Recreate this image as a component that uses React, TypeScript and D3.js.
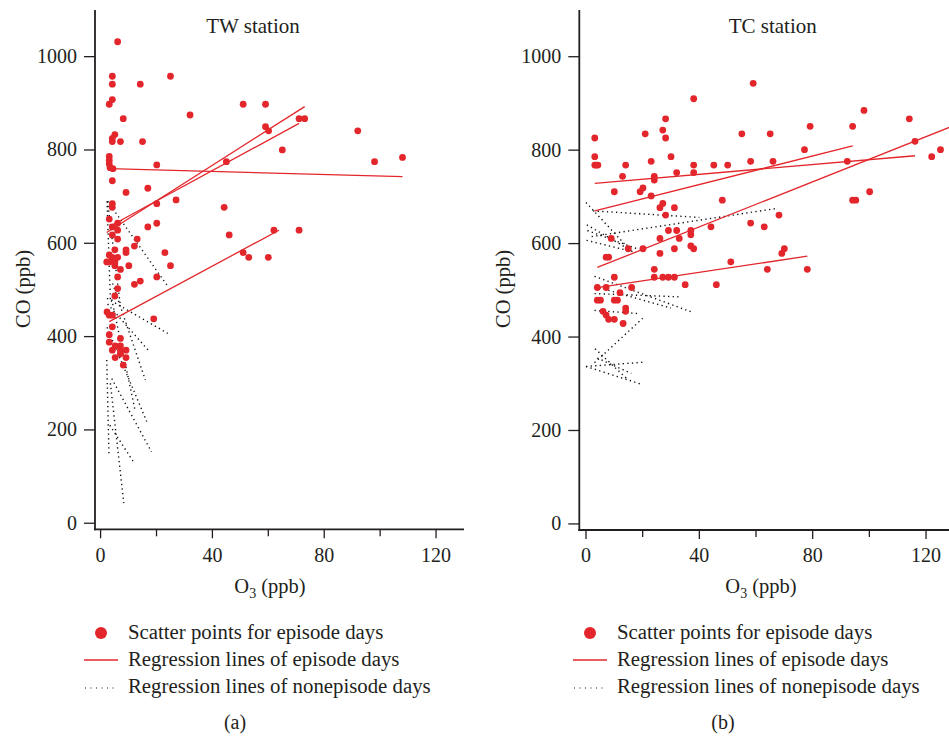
import React from "react";
import * as d3 from "d3";

// ---------- DATA ----------
const yTicks = [0, 200, 400, 600, 800, 1000];
const xTicksMajor = [0, 40, 80, 120];
const xTicksMinor = [20, 60, 100];

// TW station episode-day scatter points [O3, CO]
const twEpisodePoints: [number, number][] = [
  [6.1, 1032], [4.2, 958], [4.2, 941], [4.2, 908], [3.1, 898], [8.1, 867], [5.1, 833], [4.2, 825],
  [4.2, 818], [7.1, 818], [14.2, 941], [15, 818], [25, 958], [32, 875], [51, 898], [59, 898],
  [59, 850], [60.1, 841], [71, 867], [73, 867], [65, 800], [92, 841], [98, 775], [108, 784],
  [45, 775], [20.1, 768], [3.1, 786], [3.1, 778], [3.1, 770], [3.4, 762], [4.4, 760], [4.2, 734],
  [9.1, 709], [16.9, 718], [27, 693], [20.1, 685], [4.2, 685], [4.2, 677], [44.2, 677], [3.1, 652],
  [6.1, 643], [20.1, 643], [4.2, 635], [16.9, 635], [6.1, 628], [4.2, 618], [46, 618], [6.1, 609],
  [13.1, 609], [62, 628], [71, 628], [12.1, 594], [5.1, 586], [9.1, 586], [9.1, 580], [23, 580],
  [51, 580], [53, 570], [60, 570], [3.1, 575], [4.2, 570], [6.1, 570], [2.2, 560], [3.1, 560],
  [5.1, 560], [5.1, 552], [10.1, 552], [25, 552], [7.1, 544], [6.1, 528], [20.1, 528], [12.1, 512],
  [14.2, 519], [6.1, 503], [5.1, 487], [2.3, 453], [3.1, 446], [4.2, 446], [19, 438], [4.2, 421],
  [3.1, 404], [7.1, 396], [3.1, 388], [5.2, 380], [7.1, 380], [4.2, 371], [7.1, 371], [9.1, 371],
  [7.1, 363], [5.2, 355], [9.1, 355], [8.1, 339],
];

// TW regression lines of episode days [x1, y1, x2, y2]
const twEpisodeLines: [number, number, number, number][] = [
  [2.2, 623, 73, 893],
  [3.2, 636, 71, 857],
  [3.1, 760, 108, 743],
  [3.1, 432, 63.8, 628],
];

// TW regression lines of nonepisode days
const twNonEpisodeLines: [number, number, number, number][] = [
  [2.5, 690, 24, 508],
  [2.3, 690, 3.5, 480],
  [2.5, 690, 7, 470],
  [2.3, 482, 24, 407],
  [2.5, 470, 17, 371],
  [4.3, 514, 16, 307],
  [4, 480, 12.3, 243],
  [2.2, 350, 3, 145],
  [4, 310, 18.2, 153],
  [3.5, 300, 8.3, 43],
  [3.3, 210, 11.7, 132],
  [2.3, 420, 16.5, 218],
];

// TC station episode-day scatter points [O3, CO]
const tcEpisodePoints: [number, number][] = [
  [3.1, 826], [3.1, 786], [3.1, 768], [3.6, 768], [4.2, 768], [14, 768], [12.9, 744], [10, 711],
  [20.9, 835], [23, 776], [24.1, 744], [24.1, 736], [19.1, 711], [20.1, 719], [23, 702], [27.1, 843],
  [28.1, 867], [28.1, 826], [30, 786], [32, 752], [27.1, 686], [26.1, 677], [28.1, 661], [31.2, 677],
  [29.1, 628], [32, 628], [32.9, 611], [26.1, 611], [37, 628], [37, 619], [37, 595], [38, 589],
  [38, 910], [38, 768], [38, 752], [31.2, 589], [26.1, 579], [20.1, 589], [14.9, 589], [8.9, 611],
  [7.1, 571], [8, 571], [45.1, 768], [50, 768], [48.1, 693], [44.1, 636], [55, 835], [59, 943],
  [58.1, 776], [65, 835], [66, 776], [58.1, 644], [62.9, 636], [68.1, 661], [69.1, 579], [70, 589],
  [51.1, 561], [64, 545], [78.1, 545], [46, 512], [35, 512], [77.1, 801], [79.1, 851], [92.2, 776],
  [94.1, 851], [98.1, 885], [94.1, 693], [95.2, 693], [100.1, 711], [114.1, 867], [116.1, 819],
  [122, 786], [125.1, 801], [24.1, 545], [24.1, 528], [27.1, 528], [29.1, 528], [31.2, 528],
  [10, 528], [4, 506], [7.1, 506], [16.1, 506], [12, 495], [4, 479], [5.1, 479], [10, 479],
  [11.1, 479], [14, 462], [14, 455], [6, 455], [7.1, 447], [8, 438], [10, 438], [13.1, 429],
];

// TC regression lines of episode days
const tcEpisodeLines: [number, number, number, number][] = [
  [3.1, 729, 116.1, 788],
  [3.1, 670, 94.1, 809],
  [4, 549, 130, 853],
  [4, 506, 78.1, 573],
];

// TC regression lines of nonepisode days
const tcNonEpisodeLines: [number, number, number, number][] = [
  [0, 688, 15, 590],
  [2.5, 670, 40, 656],
  [2, 615, 67, 675],
  [0.5, 628, 18, 589],
  [0.2, 607, 17, 582],
  [0.3, 640, 16, 585],
  [3, 530, 38, 452],
  [3, 493, 33, 486],
  [3.2, 508, 30, 462],
  [3, 457, 19, 450],
  [3, 345, 20, 440],
  [3.2, 375, 14.4, 311],
  [0, 337, 20, 346],
  [0, 337, 19, 300],
  [4, 355, 16, 322],
];

const legendLabels = [
  "Scatter points for episode days",
  "Regression lines of episode days",
  "Regression lines of nonepisode days",
];

// ---------- STYLE ----------
const FONT = "'Liberation Serif', 'Times New Roman', serif";
const INK = "#231f20";
const RED = "#e3262b";

type Seg = [number, number, number, number];

function Panel(props: {
  title: string;
  xRange: [number, number];
  xDomain: [number, number];
  xAxisY: number;
  titleX: number;
  yLabelX: number;
  xLabelX: number;
  points: [number, number][];
  epLines: Seg[];
  nonLines: Seg[];
}) {
  const x = d3.scaleLinear().domain(props.xDomain).range(props.xRange);
  const y = d3.scaleLinear().domain([-13, 1100]).range([props.xAxisY, 10]);
  const ax = props.xRange[0];
  const clipId = "clip" + props.title.replace(/\s/g, "");
  return (
    <g>
      <defs>
        <clipPath id={clipId}>
          <rect x={ax} y={0} width={props.xRange[1] - ax} height={props.xAxisY} />
        </clipPath>
      </defs>
      <text x={props.titleX} y={33} textAnchor="middle" fontFamily={FONT} fontSize={21} fill={INK}>
        {props.title}
      </text>
      <g clipPath={`url(#${clipId})`}>
        {props.nonLines.map((s, i) => (
          <line
            key={"n" + i}
            x1={x(s[0])}
            y1={y(s[1])}
            x2={x(s[2])}
            y2={y(s[3])}
            stroke="#111"
            strokeWidth={1.4}
            strokeDasharray="1.3 3.3"
          />
        ))}
        {props.epLines.map((s, i) => (
          <line
            key={"e" + i}
            x1={x(s[0])}
            y1={y(s[1])}
            x2={x(s[2])}
            y2={y(s[3])}
            stroke={RED}
            strokeWidth={1.3}
          />
        ))}
        {props.points.map((p, i) => (
          <circle key={"p" + i} cx={x(p[0])} cy={y(p[1])} r={3.4} fill={RED} />
        ))}
      </g>
      <line x1={ax} y1={10} x2={ax} y2={props.xAxisY + 1} stroke={INK} strokeWidth={1.8} />
      {yTicks.map((t) => (
        <g key={"yt" + t}>
          <line x1={ax - 11} x2={ax} y1={y(t)} y2={y(t)} stroke={INK} strokeWidth={1.3} />
          <text x={ax - 18} y={y(t) + 6.5} textAnchor="end" fontFamily={FONT} fontSize={20} fill={INK}>
            {t}
          </text>
        </g>
      ))}
      <line x1={ax - 1} y1={props.xAxisY} x2={props.xRange[1]} y2={props.xAxisY} stroke={INK} strokeWidth={1.8} />
      {xTicksMajor.map((t) => (
        <g key={"xt" + t}>
          <line x1={x(t)} x2={x(t)} y1={props.xAxisY} y2={props.xAxisY + 9} stroke={INK} strokeWidth={1.3} />
          <text x={x(t)} y={561.5} textAnchor="middle" fontFamily={FONT} fontSize={20} fill={INK}>
            {t}
          </text>
        </g>
      ))}
      {xTicksMinor.map((t) => (
        <line key={"xm" + t} x1={x(t)} x2={x(t)} y1={props.xAxisY} y2={props.xAxisY + 7} stroke={INK} strokeWidth={1.3} />
      ))}
      <text
        transform={`translate(${props.yLabelX},289) rotate(-90)`}
        textAnchor="middle"
        fontFamily={FONT}
        fontSize={20.5}
        fill={INK}
      >
        CO (ppb)
      </text>
      <text x={props.xLabelX} y={593} textAnchor="middle" fontFamily={FONT} fontSize={20.5} fill={INK}>
        O<tspan fontSize={14} dy={5}>3</tspan>
        <tspan dy={-5}> (ppb)</tspan>
      </text>
    </g>
  );
}

function Legend(props: { x: number; tag: string; tagX: number }) {
  const lx = props.x;
  return (
    <g fontFamily={FONT} fontSize={20.8} fill={INK}>
      <circle cx={lx + 17} cy={633} r={6} fill={RED} />
      <line x1={lx} x2={lx + 34} y1={660} y2={660} stroke={RED} strokeWidth={1.4} />
      <line x1={lx + 1} x2={lx + 34} y1={688} y2={688} stroke="#111" strokeWidth={1.2} strokeDasharray="1 4.5" />
      {legendLabels.map((l, i) => (
        <text key={l} x={lx + 44} y={639 + i * 27}>
          {l}
        </text>
      ))}
      <text x={props.tagX} y={729} textAnchor="middle" fontSize={20}>
        {props.tag}
      </text>
    </g>
  );
}

export default function App() {
  return (
    <svg width={949} height={737} style={{ position: "absolute", left: 0, top: 0, background: "#fff" }}>
      <rect width={949} height={737} fill="#fff" />
      <Panel
        title="TW station"
        xRange={[95, 464]}
        xDomain={[-2, 130]}
        xAxisY={529.3}
        titleX={253}
        yLabelX={30}
        xLabelX={270}
        points={twEpisodePoints}
        epLines={twEpisodeLines}
        nonLines={twNonEpisodeLines}
      />
      <Panel
        title="TC station"
        xRange={[579.3, 949]}
        xDomain={[-2.36, 128.1]}
        xAxisY={530}
        titleX={772.7}
        yLabelX={510}
        xLabelX={761}
        points={tcEpisodePoints}
        epLines={tcEpisodeLines}
        nonLines={tcNonEpisodeLines}
      />
      <Legend x={84} tag="(a)" tagX={235} />
      <Legend x={573} tag="(b)" tagX={723} />
    </svg>
  );
}
